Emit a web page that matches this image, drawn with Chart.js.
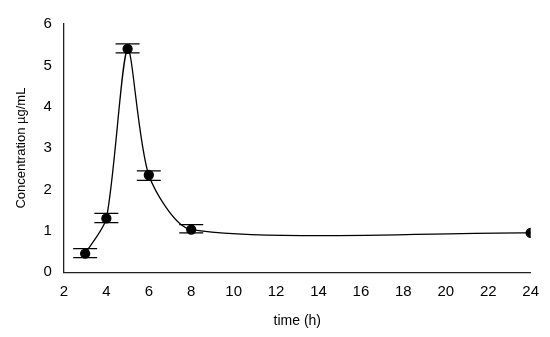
<!DOCTYPE html>
<html lang="en">
<head>
<meta charset="UTF-8">
<title>Concentration vs time</title>
<script src="https://cdn.jsdelivr.net/npm/chart.js"></script>
<style>
  html, body { margin: 0; padding: 0; background: #fff; }
  #wrap { width: 550px; height: 337px; position: relative; }
</style>
</head>
<body>
<div id="wrap"><canvas id="concChart"></canvas></div>
<script>
    // values
    const times = [3, 4, 5, 6, 8, 24];
    const concentration = [0.45, 1.3, 5.4, 2.35, 1.03, 0.95];
    const errLow = [0.35, 1.2, 5.3, 2.22, 0.95, null];
    const errHigh = [0.57, 1.42, 5.52, 2.45, 1.15, null];
    const xTicks = [2, 4, 6, 8, 10, 12, 14, 16, 18, 20, 22, 24];
    const yTicks = [0, 1, 2, 3, 4, 5, 6];

    // draw error bars using the chart scales
    const errorBars = {
        id: 'errorBars',
        afterDatasetsDraw(chart) {
            const ctx = chart.ctx;
            const xs = chart.scales.x, ys = chart.scales.y;
            ctx.save();
            ctx.strokeStyle = '#000';
            ctx.lineWidth = 1.3;
            times.forEach((t, i) => {
                if (errLow[i] == null) return;
                const px = xs.getPixelForValue(t);
                const lo = ys.getPixelForValue(errLow[i]);
                const hi = ys.getPixelForValue(errHigh[i]);
                ctx.beginPath();
                ctx.moveTo(px, lo); ctx.lineTo(px, hi);
                ctx.moveTo(px - 12, lo); ctx.lineTo(px + 12, lo);
                ctx.moveTo(px - 12, hi); ctx.lineTo(px + 12, hi);
                ctx.stroke();
            });
            ctx.restore();
        }
    };

    new Chart(document.getElementById('concChart'), {
        type: 'line',
        data: {
            datasets: [{
                data: times.map((t, i) => ({ x: t, y: concentration[i] })),
                borderColor: '#000',
                backgroundColor: '#000',
                borderWidth: 1.3,
                pointRadius: 4.5,
                pointHoverRadius: 4.5,
                tension: 0.25,
                fill: false
            }]
        },
        options: {
            responsive: true,
            maintainAspectRatio: false,
            animation: false,
            layout: { padding: { top: 24, right: 8, left: 10, bottom: 7 } },
            plugins: { legend: { display: false }, tooltip: { enabled: false } },
            scales: {
                x: {
                    type: 'linear',
                    min: 2, max: 24,
                    afterBuildTicks: s => { s.ticks = xTicks.map(v => ({ value: v })); },
                    grid: { display: false, drawTicks: false },
                    border: { display: true, color: '#222', width: 1.3 },
                    ticks: { color: '#000', padding: 11, maxRotation: 0, font: { family: 'Liberation Sans, Arial', size: 15 } },
                    title: { display: true, text: 'time (h)', color: '#000', padding: { top: 1, bottom: 0 }, font: { family: 'Liberation Sans, Arial', size: 14 } }
                },
                y: {
                    min: 0, max: 6,
                    afterBuildTicks: s => { s.ticks = yTicks.map(v => ({ value: v })); },
                    grid: { display: false, drawTicks: false },
                    border: { display: true, color: '#222', width: 1.3 },
                    ticks: { color: '#000', padding: 12, font: { family: 'Liberation Sans, Arial', size: 15 } },
                    title: { display: true, text: 'Concentration µg/mL', color: '#000', padding: { bottom: 2 }, font: { family: 'Liberation Sans, Arial', size: 13 } }
                }
            }
        },
        plugins: [errorBars]
    });
</script>
</body>
</html>
